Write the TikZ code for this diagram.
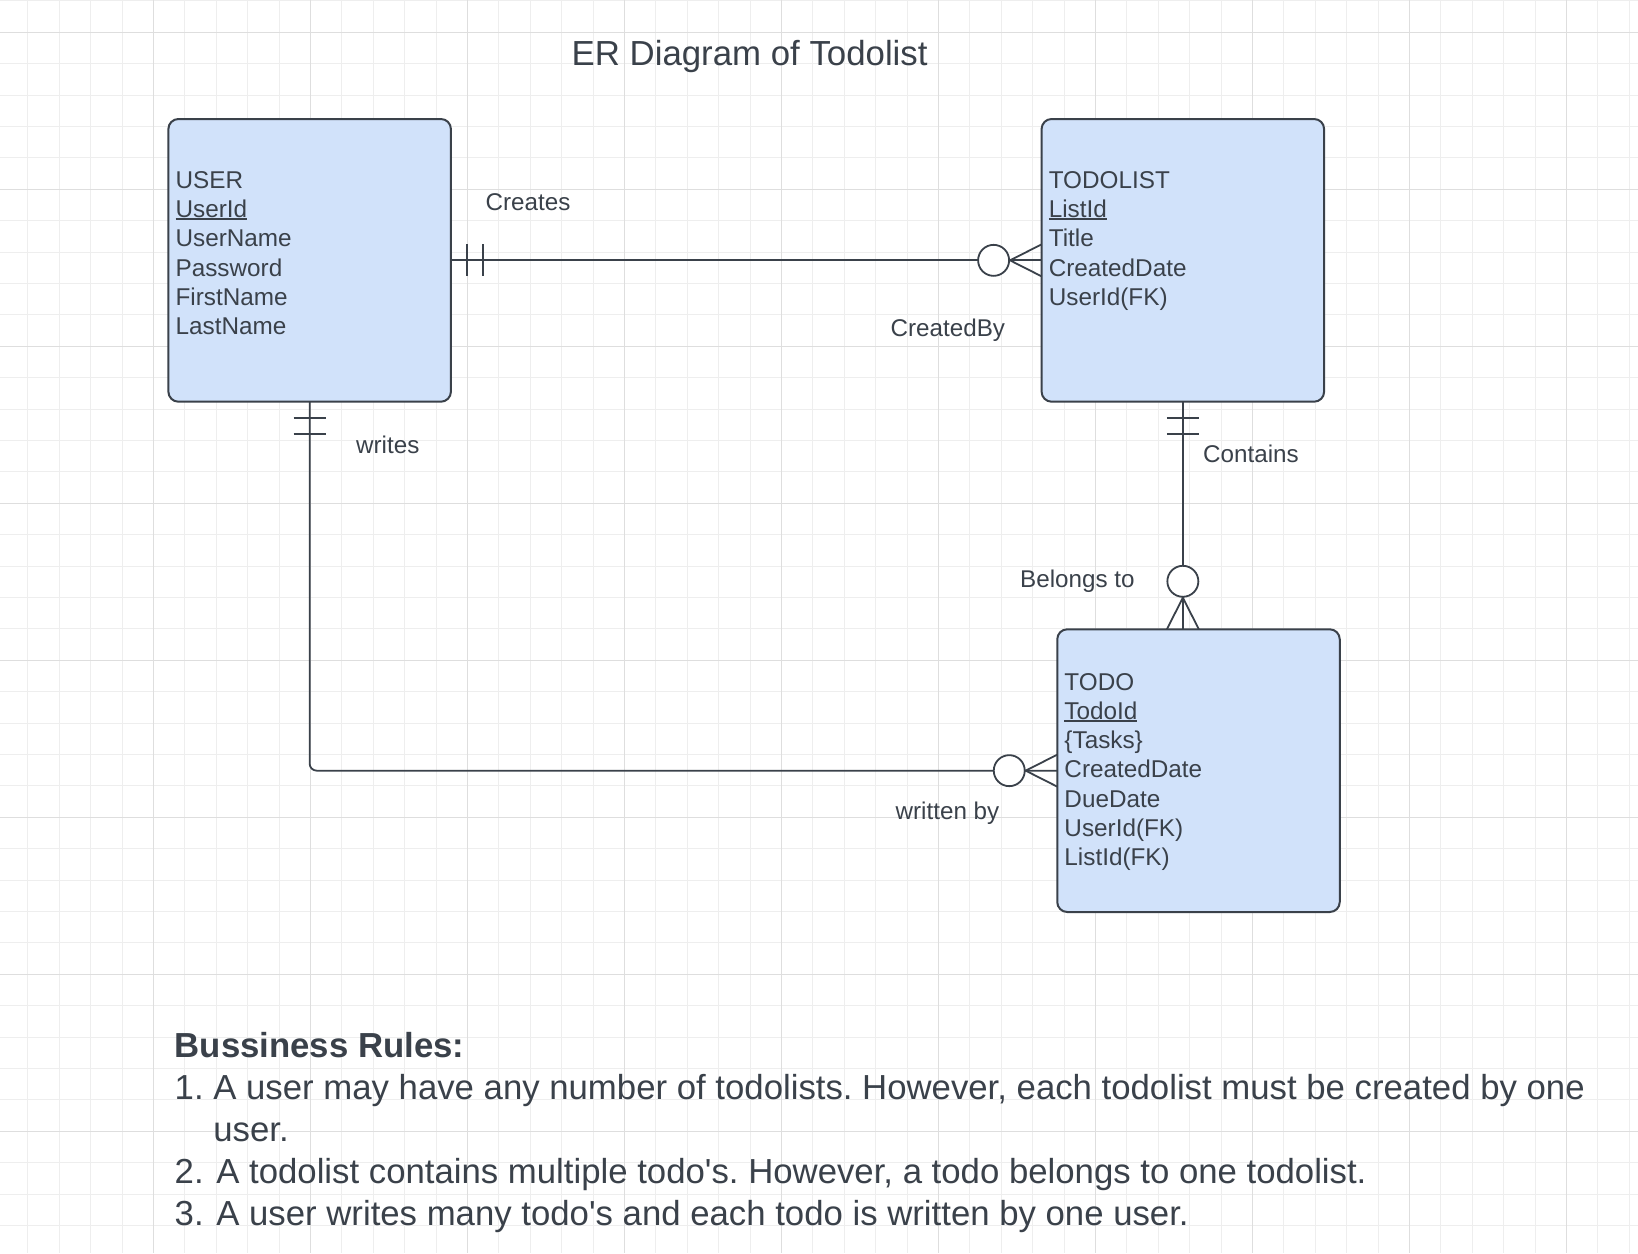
\documentclass[tikz,border=0pt]{standalone}
\usepackage{fontspec}
\setmainfont{Liberation Sans}
\usetikzlibrary{calc}
\frenchspacing

\definecolor{inkgray}{HTML}{3A414A}
\definecolor{entityblue}{RGB}{209,226,250}
\definecolor{gridminor}{RGB}{238,238,238}
\definecolor{gridmajor}{RGB}{222,222,222}

% underlined key attribute
\newcommand{\keyline}[1]{\leavevmode\setbox0=\hbox{#1}\rlap{\rule[-2.2pt]{\wd0}{1.6pt}}\box0}

\tikzset{
  entity/.style={draw=inkgray, fill=entityblue, line width=2pt, rounded corners=10pt,
    minimum width=282.5pt, minimum height=282.7pt, inner sep=0pt, outer sep=0pt},
  attr/.style={anchor=base west, inner sep=0pt, text=inkgray, font=\fontsize{24.3}{29}\selectfont},
  reltext/.style={anchor=base west, inner sep=0pt, text=inkgray, font=\fontsize{24.2}{29}\selectfont},
  rel/.style={draw=inkgray, line width=1.8pt},
  zero/.style={circle, draw=inkgray, fill=white, line width=1.8pt, minimum size=31pt, inner sep=0pt},
  rulestyle/.style={anchor=base west, inner sep=0pt, text=inkgray, font=\fontsize{34.75}{42}\selectfont},
}

\begin{document}
\begin{tikzpicture}[x=1pt, y=-1pt]
	\fill[white] (0,0) rectangle (1638,1253);
	\useasboundingbox (0,0) rectangle (1638,1253);

	% Grid
	\foreach \k in {1,...,52}
		\draw[gridminor, line width=1pt] ({-3.5+31.4*\k},0) -- ++(0,1253);
	\foreach \k in {0,...,39}
		\draw[gridminor, line width=1pt] (0,{0.9+31.4*\k}) -- ++(1638,0);
	\foreach \k in {1,...,10}
		\draw[gridmajor, line width=1pt] ({-3.5+157*\k},0) -- ++(0,1253);
	\foreach \k in {0,...,7}
		\draw[gridmajor, line width=1pt] (0,{32.3+157*\k}) -- ++(1638,0);

	% Title
	\node[anchor=base west, inner sep=0pt, text=inkgray, font=\fontsize{34.8}{40}\selectfont] (title) at (571.5,65) {ER Diagram of Todolist};

	% Entities
	\node[entity] (user) at (309.65,260.35) {};
	\node[entity] (todolist) at (1182.85,260.35) {};
	\node[entity] (todo) at (1198.5,770.65) {};

	\foreach \t [count=\i from 0] in {USER,\keyline{UserId},UserName,Password,FirstName,LastName}
		\node[attr] (user-\i) at ($(user.north west)+(7,69.3+29.3*\i)$) {\t};
	\foreach \t [count=\i from 0] in {TODOLIST,\keyline{ListId},Title,CreatedDate,UserId(FK)}
		\node[attr] (todolist-\i) at ($(todolist.north west)+(7,69.3+29.3*\i)$) {\t};
	\foreach \t [count=\i from 0] in {TODO,\keyline{TodoId},\{Tasks\},CreatedDate,DueDate,UserId(FK),ListId(FK)}
		\node[attr] (todo-\i) at ($(todo.north west)+(7,60.7+29.3*\i)$) {\t};

	% Relationships
	\draw[rel] (user.east) -- (todolist.west);
	\coordinate (tn) at (todolist.south |- todo.north);
	\draw[rel] (todolist.south) -- (tn);
	\draw[rel, rounded corners=7pt] (user.south) |- (todo.west);

	% one and only one
	\draw[rel] ([xshift=16pt]user.east) ++(0,-16) -- ++(0,32);
	\draw[rel] ([xshift=32pt]user.east) ++(0,-16) -- ++(0,32);
	\draw[rel] ([yshift=-16pt]user.south) ++(-16,0) -- ++(32,0);
	\draw[rel] ([yshift=-32pt]user.south) ++(-16,0) -- ++(32,0);
	\draw[rel] ([yshift=-16pt]todolist.south) ++(-16,0) -- ++(32,0);
	\draw[rel] ([yshift=-32pt]todolist.south) ++(-16,0) -- ++(32,0);

	% zero or many
	\node[zero] (cl) at ([xshift=-48pt]todolist.west) {};
	\draw[rel] ([yshift=16pt]todolist.west) -- (cl.east) -- ([yshift=-16pt]todolist.west);
	\node[zero] (cn) at ([yshift=48pt]tn) {};
	\draw[rel] ([xshift=-16pt]tn) -- (cn.south) -- ([xshift=16pt]tn);
	\node[zero] (cw) at ([xshift=-48pt]todo.west) {};
	\draw[rel] ([yshift=16pt]todo.west) -- (cw.east) -- ([yshift=-16pt]todo.west);

	% Labels
	\node[reltext] (creates) at (485.5,210.7) {Creates};
	\node[reltext] (createdby) at (890.5,336.5) {CreatedBy};
	\node[reltext] (writes) at (356,453.3) {writes};
	\node[reltext] (contains) at (1203,462.3) {Contains};
	\node[reltext] (belongs) at (1020,587.7) {Belongs to};
	\node[reltext] (writtenby) at (895.5,819.3) {written by};

	% Business rules
	\node[rulestyle] (ruleshead) at (174.5,1057.7) {\bfseries Bussiness Rules:};
	\node[rulestyle] (rule1) at (174.5,1099.5) {1. A user may have any number of todolists. However, each todolist must be created by one};
	\node[rulestyle] (rule1b) at (174.5,1141.5) {\phantom{1. }user.};
	\node[rulestyle] (rule2) at (174.5,1183.3) {2.\kern3pt{} A todolist contains multiple todo\textquotesingle s. However, a todo belongs to one todolist.};
	\node[rulestyle] (rule3) at (174.5,1225) {3.\kern3pt{} A user writes many todo\textquotesingle s and each todo is written by one user.};
\end{tikzpicture}
\end{document}
